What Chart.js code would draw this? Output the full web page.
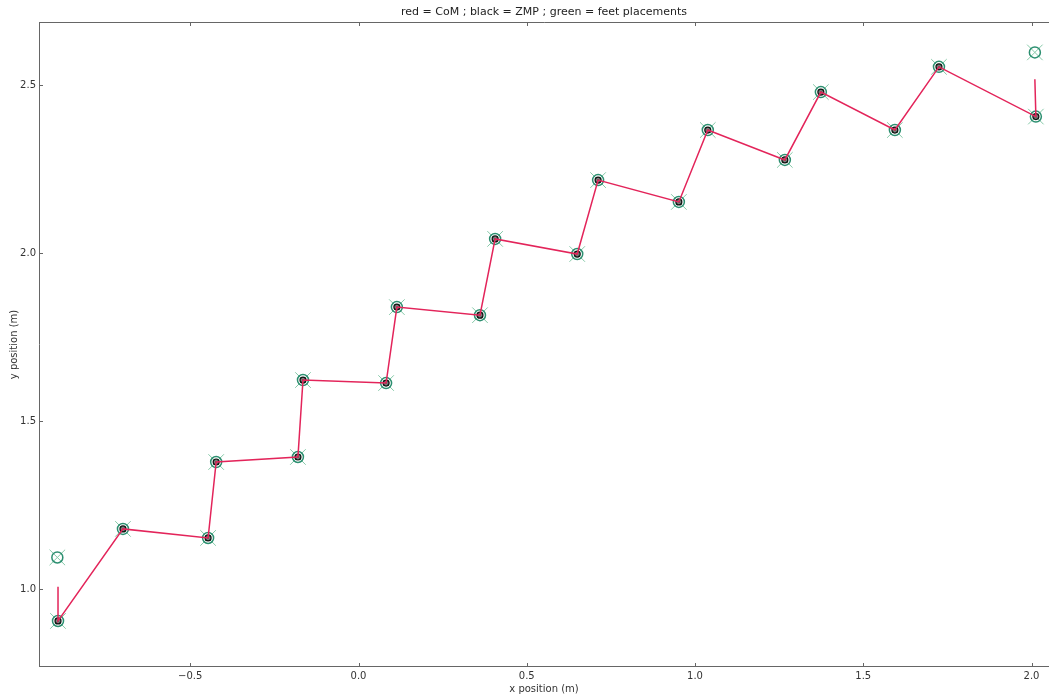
<!DOCTYPE html>
<html><head><meta charset="utf-8">
<script src="https://cdn.jsdelivr.net/npm/chart.js@4/dist/chart.umd.min.js"></script>
<style>html,body{margin:0;padding:0;background:#fff}#wrap{width:1049px;height:695px}</style>
</head><body><div id="wrap"><canvas id="c" width="1049" height="695"></canvas></div>
<script>
const titleText = "red = CoM ; black = ZMP ; green = feet placements";
const xLabel = "x position (m)";
const yLabel = "y position (m)";

const zmpX = [-0.893, -0.700, -0.447, -0.423, -0.180, -0.165, 0.082, 0.114, 0.361, 0.406, 0.650, 0.712, 0.952, 1.038, 1.267, 1.374, 1.594, 1.725, 2.013];
const zmpY = [0.905, 1.179, 1.152, 1.378, 1.393, 1.622, 1.613, 1.839, 1.815, 2.042, 1.997, 2.217, 2.152, 2.366, 2.277, 2.479, 2.366, 2.554, 2.406];

const extraFeetX = [-0.895, 2.010];
const extraFeetY = [1.094, 2.597];

const comStartX = [-0.893];
const comStartY = [1.007];
const comEndX = [2.010];
const comEndY = [2.517];

const xTicks = [-0.5, 0.0, 0.5, 1.0, 1.5, 2.0];
const xTickLabels = ["\u22120.5", "0.0", "0.5", "1.0", "1.5", "2.0"];
const yTicks = [1.0, 1.5, 2.0, 2.5];
const yTickLabels = ["1.0", "1.5", "2.0", "2.5"];

const xRange = [-0.9495, 2.052];
const yRange = [0.768, 2.6875];

const zip = (xs, ys) => xs.map((x, i) => ({x: x, y: ys[i]}));
const feetPts = zip(zmpX.concat(extraFeetX), zmpY.concat(extraFeetY));
const zmpPts = zip(zmpX, zmpY);
const comPts = zip(comStartX.concat(zmpX, comEndX), comStartY.concat(zmpY, comEndY));

const frame = {
  id: 'frame',
  afterDatasetsDraw(chart) {
    const {ctx, chartArea: a, scales} = chart;
    ctx.save();
    ctx.strokeStyle = '#666';
    ctx.lineWidth = 1;
    ctx.beginPath();
    ctx.moveTo(a.left + 0.5, a.top + 0.5);
    ctx.lineTo(a.right, a.top + 0.5);
    ctx.moveTo(a.left + 0.5, a.top);
    ctx.lineTo(a.left + 0.5, a.bottom);
    ctx.moveTo(a.left, a.bottom - 0.5);
    ctx.lineTo(a.right, a.bottom - 0.5);
    xTicks.forEach(v => {
      const p = Math.round(scales.x.getPixelForValue(v)) + 0.5;
      ctx.moveTo(p, a.bottom); ctx.lineTo(p, a.bottom - 4);
      ctx.moveTo(p, a.top); ctx.lineTo(p, a.top + 4);
    });
    yTicks.forEach(v => {
      const p = Math.round(scales.y.getPixelForValue(v)) + 0.5;
      ctx.moveTo(a.left, p); ctx.lineTo(a.left + 4, p);
    });
    ctx.stroke();
    ctx.fillStyle = '#222';
    ctx.font = '11px "DejaVu Sans"';
    ctx.textAlign = 'center';
    ctx.textBaseline = 'middle';
    ctx.fillText(titleText, (a.left + a.right) / 2, 12);
    ctx.restore();
  }
};

new Chart(document.getElementById('c'), {
  type: 'scatter',
  data: {
    datasets: [
      {
        label: 'CoM', data: comPts, showLine: true, borderColor: '#e3245a', borderWidth: 1.5,
        pointRadius: 0, order: 1
      },
      {
        label: 'ZMP', data: zmpPts, showLine: false, pointStyle: 'circle', pointRadius: 3,
        pointBorderColor: '#111', pointBackgroundColor: 'rgba(20,20,20,0.55)', pointBorderWidth: 1.2, order: 2
      },
      {
        label: 'feet circles', data: feetPts, showLine: false, pointStyle: 'circle', pointRadius: 5.5,
        pointBorderColor: '#2c8f70', pointBackgroundColor: 'rgba(0,0,0,0)', pointBorderWidth: 1.5, order: 3
      },
      {
        label: 'feet cross', data: feetPts, showLine: false, pointStyle: 'crossRot', pointRadius: 11,
        pointBorderColor: '#86c9a8', pointBorderWidth: 1, order: 4
      }
    ]
  },
  options: {
    responsive: false,
    animation: false,
    devicePixelRatio: 1,
    layout: {autoPadding: false, padding: {top: 22, right: 0, left: 0, bottom: 0}},
    plugins: {legend: {display: false}, tooltip: {enabled: false}, title: {display: false}},
    scales: {
      x: {
        type: 'linear', min: xRange[0], max: xRange[1],
        afterBuildTicks: s => { s.ticks = xTicks.map(v => ({value: v})); },
        afterFit: s => { s.height = 28; s.paddingLeft = 0; s.paddingRight = 0; },
        grid: {display: false, drawTicks: false},
        border: {display: false},
        ticks: {
          padding: 3, color: '#333', font: {family: 'DejaVu Sans', size: 10},
          callback: (v) => xTickLabels[xTicks.indexOf(v)] ?? ''
        },
        title: {display: true, text: xLabel, color: '#333', font: {family: 'DejaVu Sans', size: 10}, padding: {top: 0, bottom: 0}}
      },
      y: {
        type: 'linear', min: yRange[0], max: yRange[1],
        afterBuildTicks: s => { s.ticks = yTicks.map(v => ({value: v})); },
        afterFit: s => { s.width = 39; s.paddingTop = 0; s.paddingBottom = 0; },
        grid: {display: false, drawTicks: false},
        border: {display: false},
        ticks: {
          padding: 3, color: '#333', font: {family: 'DejaVu Sans', size: 10},
          callback: (v) => yTickLabels[yTicks.indexOf(v)] ?? ''
        },
        title: {display: true, text: yLabel, color: '#333', font: {family: 'DejaVu Sans', size: 10}, padding: {top: 8, bottom: 0}}
      }
    }
  },
  plugins: [frame]
});
</script>
</body></html>
